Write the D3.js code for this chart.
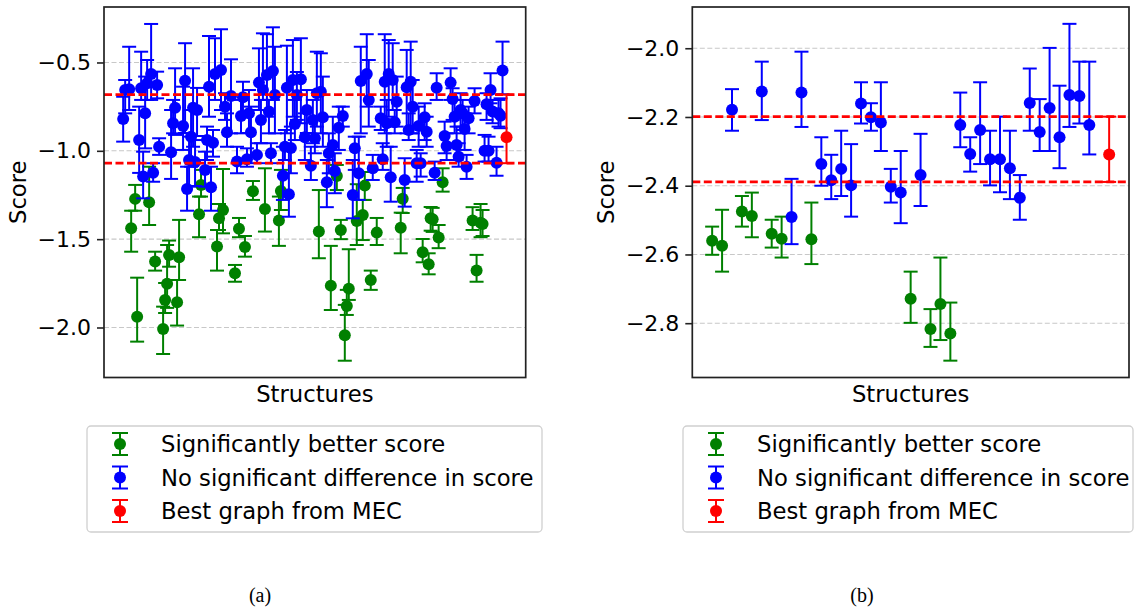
<!DOCTYPE html>
<html>
<head>
<meta charset="utf-8">
<script src="https://cdn.jsdelivr.net/npm/d3@7"></script>
<style>
  html, body { margin: 0; padding: 0; background: #ffffff; }
  svg { display: block; }
  text { font-family: "DejaVu Sans", sans-serif; fill: #000; }
</style>
</head>
<body>
<svg id="fig" width="1136" height="607"></svg>
<script>
// Each entry: [structure index, score, lower bound, upper bound]

// Panel (a)
const aGreen = [
  [4,-1.438,-1.571,-1.339],[6,-1.272,-1.339,-1.193],[7,-1.939,-2.080,-1.718],
  [13,-1.291,-1.420,-1.090],[16,-1.627,-1.678,-1.571],[20,-2.008,-2.150,-1.882],
  [21,-1.844,-1.918,-1.748],[22,-1.753,-1.889,-1.533],[23,-1.589,-1.656,-1.508],
  [27,-1.857,-1.989,-1.731],[28,-1.602,-1.731,-1.391],[38,-1.359,-1.489,-1.259],
  [39,-1.193,-1.259,-1.108],[47,-1.542,-1.678,-1.448],[48,-1.382,-1.448,-1.301],
  [50,-1.335,-1.467,-1.103],[56,-1.693,-1.741,-1.646],[58,-1.441,-1.489,-1.380],
  [61,-1.544,-1.599,-1.482],[65,-1.229,-1.278,-1.171],[71,-1.329,-1.457,-1.099],
  [78,-1.395,-1.538,-1.259],[79,-1.227,-1.335,-1.108],[98,-1.457,-1.608,-1.222],
  [104,-1.763,-1.901,-1.538],[107,-1.142,-1.222,-1.080],[109,-1.448,-1.500,-1.391],
  [111,-2.044,-2.188,-1.872],[112,-1.878,-1.929,-1.787],[113,-1.780,-1.844,-1.557],
  [117,-1.397,-1.533,-1.189],[120,-1.363,-1.505,-1.278],[121,-1.197,-1.278,-1.120],
  [124,-1.731,-1.787,-1.678],[127,-1.463,-1.533,-1.380],[139,-1.435,-1.580,-1.350],
  [140,-1.271,-1.352,-1.210],[150,-1.574,-1.631,-1.499],[153,-1.642,-1.699,-1.580],
  [154,-1.382,-1.452,-1.318],[155,-1.387,-1.459,-1.323],[158,-1.491,-1.551,-1.420],
  [160,-1.178,-1.231,-1.099],[175,-1.395,-1.448,-1.319],[177,-1.678,-1.741,-1.589],
  [179,-1.407,-1.489,-1.301],[180,-1.414,-1.482,-1.335]
];

const aBlue = [
  [0,-0.820,-0.948,-0.694],[1,-0.656,-0.788,-0.599],[3,-0.652,-0.769,-0.411],
  [8,-0.939,-1.125,-0.750],[9,-0.646,-0.712,-0.439],[10,-1.146,-1.269,-1.005],
  [11,-0.788,-0.986,-0.580],[12,-0.618,-0.712,-0.486],[14,-0.565,-0.712,-0.282],
  [15,-1.124,-1.175,-1.070],[17,-0.627,-0.703,-0.552],[18,-0.977,-1.023,-0.929],
  [24,-1.008,-1.159,-0.769],[25,-0.844,-0.901,-0.712],[26,-0.756,-0.910,-0.533],
  [30,-0.859,-0.995,-0.637],[31,-0.603,-0.899,-0.391],[32,-1.216,-1.339,-1.090],
  [33,-1.052,-1.203,-0.920],[34,-0.920,-1.090,-0.769],[35,-0.756,-0.977,-0.533],
  [36,-1.063,-1.199,-0.939],[37,-0.769,-0.916,-0.644],[41,-1.108,-1.203,-1.005],
  [42,-0.939,-1.052,-0.863],[43,-0.637,-0.807,-0.350],[44,-1.206,-1.339,-1.090],
  [45,-0.954,-1.033,-0.882],[46,-0.565,-0.712,-0.363],[49,-0.542,-0.769,-0.312],
  [51,-0.750,-0.825,-0.674],[52,-0.895,-0.977,-0.788],[54,-0.690,-0.901,-0.482],
  [57,-1.061,-1.127,-0.977],[59,-0.803,-0.901,-0.712],[60,-0.697,-0.807,-0.609],
  [62,-1.048,-1.090,-0.986],[63,-0.788,-0.899,-0.656],[64,-0.895,-1.033,-0.750],
  [67,-1.023,-1.070,-0.957],[68,-0.614,-0.769,-0.420],[69,-0.825,-0.957,-0.712],
  [70,-0.656,-0.712,-0.335],[72,-0.571,-0.807,-0.340],[73,-0.778,-0.901,-0.712],
  [74,-1.014,-1.070,-0.957],[75,-0.548,-0.712,-0.301],[76,-0.684,-0.901,-0.411],
  [80,-1.141,-1.278,-0.977],[81,-0.977,-1.052,-0.882],[82,-0.643,-0.901,-0.405],
  [83,-1.246,-1.373,-0.995],[84,-0.984,-1.127,-0.863],[85,-0.599,-0.807,-0.373],
  [86,-0.848,-0.939,-0.712],[87,-0.684,-0.825,-0.554],[89,-0.595,-0.844,-0.363],
  [91,-0.923,-1.052,-0.788],[92,-0.769,-0.899,-0.656],[94,-1.084,-1.165,-0.977],
  [95,-0.825,-0.957,-0.712],[96,-0.929,-1.014,-0.825],[97,-0.674,-0.863,-0.439],
  [99,-0.665,-0.901,-0.448],[100,-0.810,-0.977,-0.580],[102,-1.178,-1.319,-1.052],
  [103,-1.014,-1.127,-0.901],[105,-0.967,-1.127,-0.807],[106,-1.114,-1.240,-1.014],
  [108,-0.869,-0.995,-0.750],[110,-0.803,-0.863,-0.750],[115,-1.250,-1.382,-1.052],
  [116,-0.986,-1.108,-0.920],[118,-1.127,-1.278,-0.920],[119,-0.605,-0.901,-0.411],
  [122,-0.565,-0.750,-0.340],[123,-0.712,-0.863,-0.486],[125,-1.099,-1.165,-1.023],
  [129,-0.816,-0.882,-0.750],[130,-1.048,-1.108,-0.957],[131,-0.609,-0.901,-0.340],
  [132,-0.844,-0.977,-0.712],[133,-0.565,-0.807,-0.373],[134,-1.150,-1.288,-0.977],
  [135,-0.599,-0.769,-0.391],[136,-0.838,-0.901,-0.769],[137,-0.722,-0.863,-0.580],
  [141,-1.165,-1.316,-1.042],[142,-0.640,-0.901,-0.429],[143,-0.882,-0.939,-0.788],
  [144,-0.609,-0.901,-0.382],[145,-0.750,-0.901,-0.599],[147,-1.070,-1.175,-0.995],
  [148,-0.859,-0.977,-0.750],[149,-1.070,-1.146,-1.014],[151,-0.810,-0.939,-0.731],
  [152,-0.892,-0.977,-0.807],[156,-1.124,-1.165,-1.061],[157,-0.643,-0.712,-0.561],
  [161,-0.916,-1.014,-0.835],[162,-0.973,-1.052,-0.901],[164,-0.614,-0.712,-0.533],
  [165,-0.707,-0.825,-0.646],[166,-0.807,-0.901,-0.712],[167,-0.967,-1.052,-0.863],
  [168,-1.033,-1.090,-0.957],[169,-0.769,-0.863,-0.674],[170,-0.788,-0.882,-0.712],
  [171,-0.876,-0.995,-0.788],[172,-1.090,-1.159,-1.023],[173,-0.816,-0.901,-0.750],
  [176,-0.718,-0.788,-0.646],[181,-0.999,-1.061,-0.910],[182,-0.737,-0.825,-0.674],
  [183,-0.999,-1.061,-0.920],[184,-0.656,-0.731,-0.561],[185,-0.778,-0.844,-0.712],
  [187,-1.067,-1.141,-0.977],[188,-0.788,-0.863,-0.712],[189,-0.801,-0.872,-0.703],
  [190,-0.546,-0.680,-0.382]
];

const aRed = [[192,-0.923,-1.070,-0.682]];
const aTicks = [-0.5, -1.0, -1.5, -2.0];
const aDomainY = [-2.283, -0.186];

// Panel (b)
const bGreen = [
  [0,-2.560,-2.601,-2.519],[1,-2.575,-2.650,-2.470],[3,-2.475,-2.519,-2.430],
  [4,-2.488,-2.550,-2.420],[6,-2.540,-2.580,-2.499],[7,-2.554,-2.609,-2.490],
  [10,-2.556,-2.628,-2.449],[20,-2.729,-2.799,-2.650],[22,-2.817,-2.869,-2.759],
  [23,-2.744,-2.849,-2.609],[24,-2.830,-2.909,-2.740]
];

const bBlue = [
  [2,-2.179,-2.240,-2.119],[5,-2.126,-2.209,-2.039],[8,-2.491,-2.570,-2.380],
  [9,-2.129,-2.229,-2.010],[11,-2.337,-2.400,-2.259],[12,-2.384,-2.439,-2.310],
  [13,-2.351,-2.430,-2.240],[14,-2.399,-2.490,-2.279],[15,-2.161,-2.219,-2.099],
  [16,-2.201,-2.240,-2.160],[17,-2.216,-2.299,-2.099],[18,-2.403,-2.449,-2.351],
  [19,-2.420,-2.509,-2.299],[21,-2.369,-2.459,-2.249],[25,-2.223,-2.288,-2.129],
  [26,-2.308,-2.359,-2.259],[27,-2.238,-2.337,-2.099],[28,-2.323,-2.399,-2.240],
  [29,-2.323,-2.419,-2.199],[30,-2.349,-2.439,-2.240],[31,-2.435,-2.499,-2.369],
  [32,-2.159,-2.240,-2.059],[33,-2.244,-2.299,-2.148],[34,-2.174,-2.299,-1.999],
  [35,-2.259,-2.349,-2.109],[36,-2.136,-2.229,-1.929],[37,-2.139,-2.219,-2.039],
  [38,-2.223,-2.309,-2.039]
];

const bRed = [[40,-2.309,-2.389,-2.199]];
const bTicks = [-2.0, -2.2, -2.4, -2.6, -2.8];
const bDomainY = [-2.958, -1.880];

const legendLabels = [
  "Significantly better score",
  "No significant difference in score",
  "Best graph from MEC"
];
const seriesColors = ["green", "blue", "red"];
const captions = ["(a)", "(b)"];

const svg = d3.select("#fig");
svg.append("rect").attr("width", 1136).attr("height", 607).attr("fill", "#fff");

const CAP = 7, R = 6, BAR_W = 2;
const FONT = "22.7px";

function errorSeries(g, data, color, x, y) {
  const s = g.append("g");
  s.selectAll("line.bar").data(data).join("line")
    .attr("x1", d => x(d[0])).attr("x2", d => x(d[0]))
    .attr("y1", d => y(d[2])).attr("y2", d => y(d[3]))
    .attr("stroke", color).attr("stroke-width", BAR_W);
  [2, 3].forEach(k => {
    s.selectAll("line.cap" + k).data(data).join("line")
      .attr("x1", d => x(d[0]) - CAP).attr("x2", d => x(d[0]) + CAP)
      .attr("y1", d => y(d[k])).attr("y2", d => y(d[k]))
      .attr("stroke", color).attr("stroke-width", BAR_W);
  });
  s.selectAll("circle").data(data).join("circle")
    .attr("cx", d => x(d[0])).attr("cy", d => y(d[1])).attr("r", R)
    .attr("fill", color);
}

function panel(cfg) {
  const { left, right, top, bottom, green, blue, red, ticks, domainY, fmt, legendX, legendW, caption, captionX } = cfg;
  const all = green.concat(blue, red);
  const xmax = d3.max(all, d => d[0]);
  const pad = 0.05 * xmax;
  const x = d3.scaleLinear().domain([-pad, xmax + pad]).range([left, right]);
  const y = d3.scaleLinear().domain(domainY).range([bottom, top]);
  const g = svg.append("g");

  // horizontal grid
  g.append("g").selectAll("line").data(ticks).join("line")
    .attr("x1", left).attr("x2", right)
    .attr("y1", d => y(d)).attr("y2", d => y(d))
    .attr("stroke", "#c8c8c8").attr("stroke-width", 1.1)
    .attr("stroke-dasharray", "5,2.5");

  errorSeries(g, green, seriesColors[0], x, y);
  errorSeries(g, blue, seriesColors[1], x, y);

  // band given by the MEC graph's interval
  const r0 = red[0];
  g.append("g").selectAll("line").data([r0[2], r0[3]]).join("line")
    .attr("x1", left).attr("x2", right)
    .attr("y1", d => y(d)).attr("y2", d => y(d))
    .attr("stroke", "red").attr("stroke-width", 2.8)
    .attr("stroke-dasharray", "8,3.5");

  errorSeries(g, red, seriesColors[2], x, y);

  // y axis
  const ax = g.append("g").attr("transform", `translate(${left},0)`)
    .call(d3.axisLeft(y).tickValues(ticks).tickFormat(fmt).tickSize(7).tickPadding(6));
  ax.select(".domain").remove();
  ax.selectAll(".tick line").attr("stroke", "#222").attr("stroke-width", 1.6);
  ax.selectAll(".tick text").style("font-family", "DejaVu Sans, sans-serif")
    .style("font-size", "22px").attr("fill", "#000");

  // frame
  g.append("rect").attr("x", left).attr("y", top)
    .attr("width", right - left).attr("height", bottom - top)
    .attr("fill", "none").attr("stroke", "#222").attr("stroke-width", 1.7);

  g.append("text").attr("x", (left + right) / 2).attr("y", bottom + 24)
    .attr("text-anchor", "middle").style("font-size", FONT).text("Structures");
  g.append("text")
    .attr("transform", `translate(${left - 78},${(top + bottom) / 2}) rotate(-90)`)
    .attr("text-anchor", "middle").style("font-size", FONT).text("Score");

  // legend
  const lg = g.append("g").attr("transform", `translate(${legendX},426)`);
  lg.append("rect").attr("width", legendW).attr("height", 106).attr("rx", 4)
    .attr("fill", "#fff").attr("stroke", "#d0d0d0").attr("stroke-width", 1.3);
  legendLabels.forEach((lab, i) => {
    const cy = 18 + i * 33.5;
    const mx = 33;
    const c = seriesColors[i];
    lg.append("line").attr("x1", mx).attr("x2", mx).attr("y1", cy - 11).attr("y2", cy + 11)
      .attr("stroke", c).attr("stroke-width", BAR_W);
    lg.append("line").attr("x1", mx - 8).attr("x2", mx + 8).attr("y1", cy - 11).attr("y2", cy - 11)
      .attr("stroke", c).attr("stroke-width", BAR_W);
    lg.append("line").attr("x1", mx - 8).attr("x2", mx + 8).attr("y1", cy + 11).attr("y2", cy + 11)
      .attr("stroke", c).attr("stroke-width", BAR_W);
    lg.append("circle").attr("cx", mx).attr("cy", cy).attr("r", R).attr("fill", c);
    lg.append("text").attr("x", 74).attr("y", cy + 8).style("font-size", FONT).text(lab);
  });

  svg.append("text").attr("x", captionX).attr("y", 602).attr("text-anchor", "middle")
    .style("font-family", "Liberation Serif, serif").style("font-size", "20px").text(caption);
}

panel({ left: 104, right: 525.7, top: 7, bottom: 377.5, green: aGreen, blue: aBlue, red: aRed,
  ticks: aTicks, domainY: aDomainY, fmt: d3.format(".1f"), legendX: 87, legendW: 455,
  caption: captions[0], captionX: 260 });
panel({ left: 692.3, right: 1129, top: 7, bottom: 377.5, green: bGreen, blue: bBlue, red: bRed,
  ticks: bTicks, domainY: bDomainY, fmt: d3.format(".1f"), legendX: 683, legendW: 450,
  caption: captions[1], captionX: 862 });
</script>
</body>
</html>
